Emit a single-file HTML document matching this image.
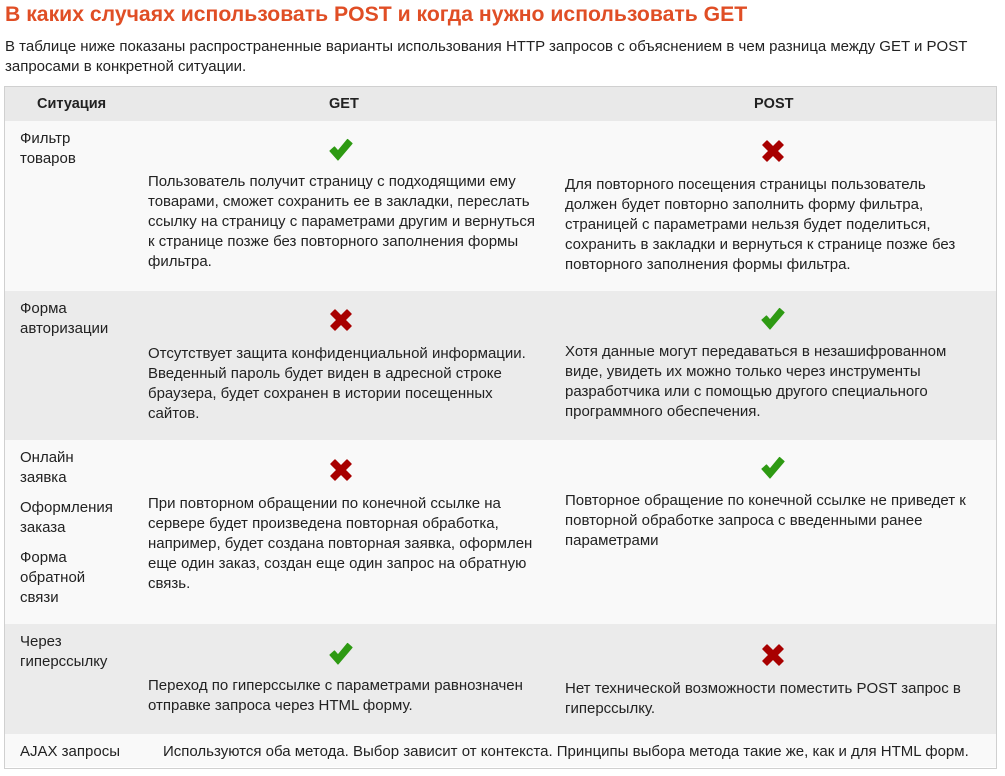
<!DOCTYPE html>
<html><head><meta charset="utf-8">
<style>
body{margin:0;width:1005px;height:776px;background:#fff;position:relative;overflow:hidden;font-family:"Liberation Sans","DejaVu Sans",sans-serif;color:#222;}
.a{position:absolute;}
.t{position:absolute;font-size:15px;line-height:20px;white-space:nowrap;color:#222;}
.row{position:absolute;left:5px;width:991px;}
.ic{position:absolute;width:26px;height:26px;}
</style></head><body>
<div class="a" style="left:5px;top:3px;font-size:21.2px;font-weight:bold;color:#e04e25;white-space:nowrap">В каких случаях использовать POST и когда нужно использовать GET</div>
<div class="t" style="left:5px;top:37px;">В таблице ниже показаны распространенные варианты использования HTTP запросов с объяснением в чем разница между GET и POST<br>запросами в конкретной ситуации.</div>

<div class="a" style="left:4px;top:86px;width:991px;height:681px;border:1px solid #d0d0d0;">
</div>
<div class="row" style="top:87px;height:34px;background:#e9e9e9"></div>
<div class="row" style="top:121px;height:170px;background:#f9f9f9"></div>
<div class="row" style="top:291px;height:149px;background:#ebebeb"></div>
<div class="row" style="top:440px;height:184px;background:#f9f9f9"></div>
<div class="row" style="top:624px;height:110px;background:#ebebeb"></div>
<div class="row" style="top:734px;height:33px;background:#f9f9f9"></div>

<div class="t" style="left:37px;top:94px;font-weight:bold;font-size:14.5px">Ситуация</div>
<div class="t" style="left:329px;top:94px;font-weight:bold;font-size:14.5px">GET</div>
<div class="t" style="left:754px;top:94px;font-weight:bold;font-size:14.5px">POST</div>

<svg width="0" height="0" style="position:absolute"><defs>
<g id="chk"><path d="M2 14 L6.5 10 L10 14 L19.5 2.5 L24 6.5 L10 23 Z" fill="#2e9a13" stroke="#2e9a13" stroke-width="1.2" stroke-linejoin="round"/></g>
<g id="crs"><path d="M3 7 L7 3 L13 9 L19 3 L23 7 L17 13 L23 19 L19 23 L13 17 L7 23 L3 19 L9 13 Z" fill="#a80000" stroke="#a80000" stroke-width="1.5" stroke-linejoin="round"/></g>
</defs></svg>

<!-- row 1 -->
<div class="t" style="left:20px;top:129px">Фильтр<br>товаров</div>
<svg class="ic" style="left:328px;top:137px" viewBox="0 0 26 26"><use href="#chk"/></svg>
<svg class="ic" style="left:760px;top:138px" viewBox="0 0 26 26"><use href="#crs"/></svg>
<div class="t" style="left:148px;top:172px">Пользователь получит страницу с подходящими ему<br>товарами, сможет сохранить ее в закладки, переслать<br>ссылку на страницу с параметрами другим и вернуться<br>к странице позже без повторного заполнения формы<br>фильтра.</div>
<div class="t" style="left:565px;top:175px">Для повторного посещения страницы пользователь<br>должен будет повторно заполнить форму фильтра,<br>страницей с параметрами нельзя будет поделиться,<br>сохранить в закладки и вернуться к странице позже без<br>повторного заполнения формы фильтра.</div>

<!-- row 2 -->
<div class="t" style="left:20px;top:299px">Форма<br>авторизации</div>
<svg class="ic" style="left:328px;top:307px" viewBox="0 0 26 26"><use href="#crs"/></svg>
<svg class="ic" style="left:760px;top:306px" viewBox="0 0 26 26"><use href="#chk"/></svg>
<div class="t" style="left:148px;top:344px">Отсутствует защита конфиденциальной информации.<br>Введенный пароль будет виден в адресной строке<br>браузера, будет сохранен в истории посещенных<br>сайтов.</div>
<div class="t" style="left:565px;top:342px">Хотя данные могут передаваться в незашифрованном<br>виде, увидеть их можно только через инструменты<br>разработчика или с помощью другого специального<br>программного обеспечения.</div>

<!-- row 3 -->
<div class="t" style="left:20px;top:448px">Онлайн<br>заявка<div style="height:10px"></div>Оформления<br>заказа<div style="height:10px"></div>Форма<br>обратной<br>связи</div>
<svg class="ic" style="left:328px;top:457px" viewBox="0 0 26 26"><use href="#crs"/></svg>
<svg class="ic" style="left:760px;top:455px" viewBox="0 0 26 26"><use href="#chk"/></svg>
<div class="t" style="left:148px;top:494px">При повторном обращении по конечной ссылке на<br>сервере будет произведена повторная обработка,<br>например, будет создана повторная заявка, оформлен<br>еще один заказ, создан еще один запрос на обратную<br>связь.</div>
<div class="t" style="left:565px;top:491px">Повторное обращение по конечной ссылке не приведет к<br>повторной обработке запроса с введенными ранее<br>параметрами</div>

<!-- row 4 -->
<div class="t" style="left:20px;top:632px">Через<br>гиперссылку</div>
<svg class="ic" style="left:328px;top:641px" viewBox="0 0 26 26"><use href="#chk"/></svg>
<svg class="ic" style="left:760px;top:642px" viewBox="0 0 26 26"><use href="#crs"/></svg>
<div class="t" style="left:148px;top:676px">Переход по гиперссылке с параметрами равнозначен<br>отправке запроса через HTML форму.</div>
<div class="t" style="left:565px;top:679px">Нет технической возможности поместить POST запрос в<br>гиперссылку.</div>

<!-- row 5 -->
<div class="t" style="left:20px;top:742px">AJAX запросы</div>
<div class="t" style="left:163px;top:742px">Используются оба метода. Выбор зависит от контекста. Принципы выбора метода такие же, как и для HTML форм.</div>
</body></html>
